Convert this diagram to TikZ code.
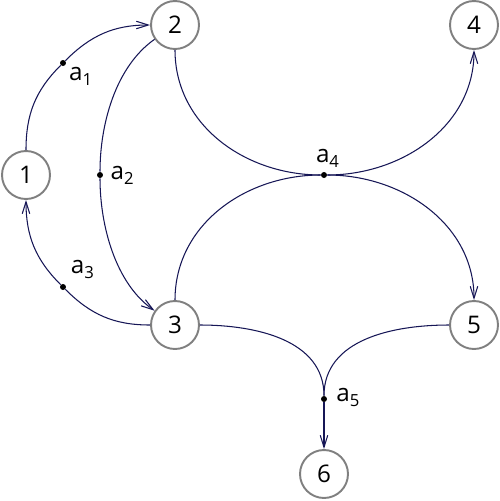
\documentclass[tikz,border=0pt]{standalone}
\usepackage{fontspec}
\setmainfont{Open Sans}
\usetikzlibrary{positioning}
\usetikzlibrary{arrows.meta}
\definecolor{edgecol}{RGB}{22,22,86}
\definecolor{vcol}{RGB}{128,128,128}
\newcommand{\asub}[1]{a\raisebox{-2.8pt}{\fontsize{9.5pt}{10pt}\selectfont #1}}
\tikzset{%
  v/.style = {circle,draw=vcol,line width=1.1pt,fill=white,
        minimum size=0.96cm,inner sep=0pt},
  d/.style = {circle,fill=black,inner sep=0pt,minimum size=0.12cm},
  lbl/.style = {inner sep=0pt},
  e/.style = {draw=edgecol,line width=0.6pt},
  ea/.style = {e,-{Straight Barb[length=0.24cm,width=0.15cm]}}
}

\begin{document}
\begin{tikzpicture}[x=0.02cm,y=0.02cm,node distance=3pt and 3pt]
   \fontsize{13.8pt}{16pt}\selectfont
   \useasboundingbox (0,0) rectangle (500,-501);
   \node[v] (n1) at (26,-175) {1};
   \node[v] (n2) at (175,-25) {2};
   \node[v] (n3) at (175,-325) {3};
   \node[v] (n4) at (474,-25) {4};
   \node[v] (n5) at (474,-325) {5};
   \node[v] (n6) at (324,-474) {6};
   \node[d] (a1) at (63,-63) {};
   \node[d] (a2) at (100,-175) {};
   \node[d] (a3) at (63,-287) {};
   \node[d] (a4) at (324,-175) {};
   \node[d] (a5) at (324,-399) {};
   \node[lbl] (l1) [below right=1pt and 2pt of a1] {\asub{1}};
   \node[lbl] (l2) [right=4pt of a2] {\asub{2}};
   \node[lbl] (l3) [above right=3pt and 3pt of a3] {\asub{3}};
   \node[lbl] (l4) [above=2pt of a4,xshift=2pt] {\asub{4}};
   \node[lbl] (l5) [right=5pt of a5,yshift=1pt] {\asub{5}};
   % a1
   \draw[e] (n1) to[out=90,in=225] (a1);
   \draw[ea] (a1) to[out=45,in=180] (n2);
   % a2
   \draw[e] (n2) to[out=215,in=90,looseness=0.85] (a2);
   \draw[ea] (a2) to[out=270,in=145,looseness=0.85] (n3);
   % a3
   \draw[e] (n3) to[out=180,in=315] (a3);
   \draw[ea] (a3) to[out=135,in=270] (n1);
   % a4
   \draw[e] (n2) to[out=270,in=180] (a4);
   \draw[e] (n3) to[out=90,in=180] (a4);
   \draw[ea] (a4) to[out=0,in=270] (n4);
   \draw[ea] (a4) to[out=0,in=90] (n5);
   % a5
   \draw[e] (n3) to[out=0,in=90] (a5);
   \draw[e] (n5) to[out=180,in=90] (a5);
   \draw[ea] (a5) -- (n6);
\end{tikzpicture}
\end{document}
